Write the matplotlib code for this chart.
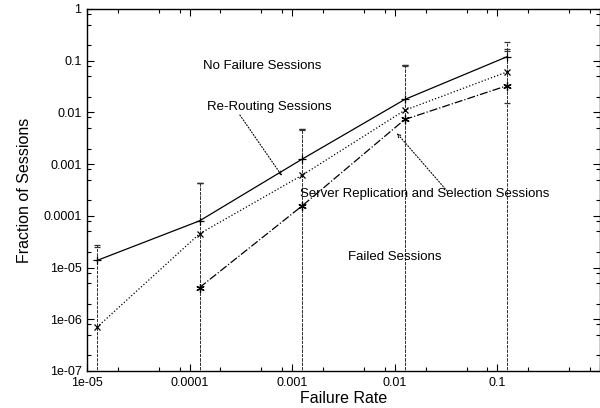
import matplotlib
matplotlib.use('Agg')
import matplotlib.pyplot as plt
from matplotlib.ticker import FixedLocator, FixedFormatter, LogLocator, NullFormatter

plt.rcParams['font.family'] = ['Liberation Sans', 'DejaVu Sans']

# failure rates (x) shared by all series
rates = [1.25e-5, 1.25e-4, 1.25e-3, 1.25e-2, 1.25e-1]

# No Failure Sessions
nofail = [1.37e-5, 8.0e-5, 1.25e-3, 0.0178, 0.12]
nofail_err = [1.4e-5, 3.5e-4, 3.5e-3, 0.063, 0.105]
# Re-Routing Sessions
rerout = [7.0e-7, 4.5e-5, 6.1e-4, 0.011, 0.061]
rerout_err = [2.4e-5, 3.9e-4, 4.1e-3, 0.070, 0.110]
# Server Replication and Selection Sessions (no value at lowest rate)
srvrep_x = rates[1:]
srvrep = [4.1e-6, 1.56e-4, 0.0073, 0.033]
srvrep_err = [4.2e-4, 4.5e-3, 0.073, 0.12]

xticks = [1e-5, 1e-4, 1e-3, 1e-2, 1e-1, 1]
xlabels = ['1e-05', '0.0001', '0.001', '0.01', '0.1', '']
yticks = [1e-7, 1e-6, 1e-5, 1e-4, 1e-3, 1e-2, 1e-1, 1]
ylabels = ['1e-07', '1e-06', '1e-05', '0.0001', '0.001', '0.01', '0.1', '1']

fig = plt.figure(figsize=(6.0, 4.08), dpi=100)
ax = fig.add_axes([0.145, 0.0907, 0.855, 0.8873])
ax.set_xscale('log')
ax.set_yscale('log')

series = [
    (rates, nofail, nofail_err, '-', '+', 6),
    (rates, rerout, rerout_err, ':', 'x', 5),
    (srvrep_x, srvrep, srvrep_err, '-.', (6, 2, 0), 6),
]
for xs, ys, es, ls, mk, ms in series:
    cont = ax.errorbar(xs, ys, yerr=es, color='black', linestyle=ls, linewidth=0.9,
                       marker=mk, markersize=ms, markeredgewidth=0.9,
                       elinewidth=0.7, capsize=2, capthick=0.7, ecolor='#333333')
    for bc in cont[2]:
        bc.set_linestyle((0, (3, 1.5)))

ax.set_xlim(1e-5, 1)
ax.set_ylim(1e-7, 1)

ax.xaxis.set_major_locator(FixedLocator(xticks))
ax.xaxis.set_major_formatter(FixedFormatter(xlabels))
ax.yaxis.set_major_locator(FixedLocator(yticks))
ax.yaxis.set_major_formatter(FixedFormatter(ylabels))
ax.xaxis.set_minor_locator(LogLocator(base=10, subs=(2, 5, 8)))
ax.yaxis.set_minor_locator(LogLocator(base=10, subs=(2, 5, 8)))
ax.xaxis.set_minor_formatter(NullFormatter())
ax.yaxis.set_minor_formatter(NullFormatter())
ax.tick_params(which='both', direction='in', top=True, right=True, labelsize=9, width=0.8)
ax.tick_params(which='major', length=5, pad=4)
ax.tick_params(which='minor', length=3)
for sp in ax.spines.values():
    sp.set_linewidth(1.0)

ax.set_xlabel('Failure Rate', fontsize=11.5, labelpad=2)
ax.set_ylabel('Fraction of Sessions', fontsize=11.5, labelpad=8)

ax.text(0.226, 0.843, 'No Failure Sessions', transform=ax.transAxes, fontsize=9.5, va='center')
ax.text(0.234, 0.729, 'Re-Routing Sessions', transform=ax.transAxes, fontsize=9.5, va='center')
ax.text(0.415, 0.489, 'Server Replication and Selection Sessions', transform=ax.transAxes,
        fontsize=9.5, va='center')
ax.text(0.509, 0.315, 'Failed Sessions', transform=ax.transAxes, fontsize=9.5, va='center')

arrow = dict(arrowstyle='->', linestyle=':', linewidth=0.8, color='black',
             mutation_scale=6, shrinkA=0, shrinkB=0)
ax.annotate('', xy=(0.380, 0.539), xytext=(0.298, 0.707),
            xycoords='axes fraction', textcoords='axes fraction', arrowprops=arrow)
ax.annotate('', xy=(0.604, 0.657), xytext=(0.702, 0.497),
            xycoords='axes fraction', textcoords='axes fraction', arrowprops=arrow)

fig.savefig('out.png', dpi=100)
